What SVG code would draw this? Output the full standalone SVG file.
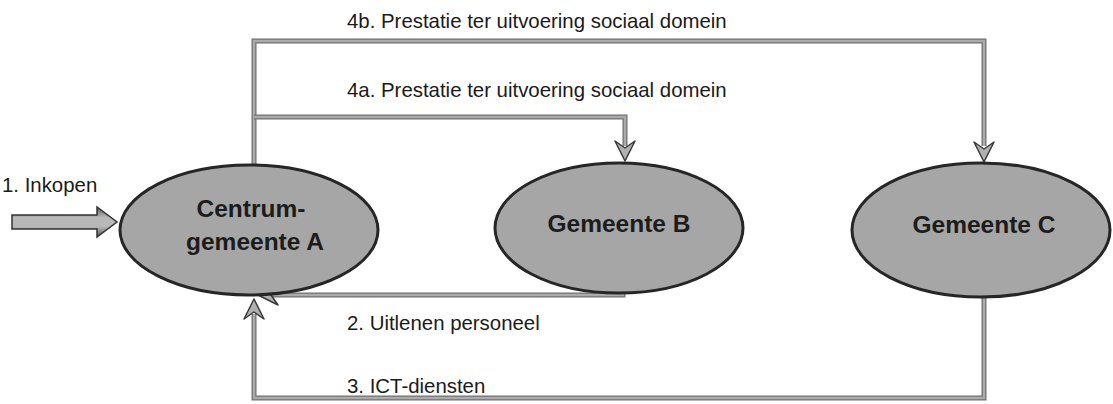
<svg xmlns="http://www.w3.org/2000/svg" width="1113" height="404" viewBox="0 0 1113 404">
  <style>
    .lbl { font-family: "Liberation Sans", Arial, sans-serif; font-size: 20.4px; fill: #1a1a1a; }
    .node-text { font-family: "Liberation Sans", Arial, sans-serif; font-size: 24.5px; font-weight: bold; fill: #1c1c1c; text-anchor: middle; }
    .node { fill: #a6a6a6; stroke: #262626; stroke-width: 3; }
    .conn-outer { fill: none; stroke: #707070; stroke-width: 5; }
    .conn-inner { fill: none; stroke: #ababab; stroke-width: 2.5; }
  </style>
  <defs>
    <linearGradient id="blockGrad" x1="0" y1="0" x2="0" y2="1">
      <stop offset="0" stop-color="#5a5a5a"/>
      <stop offset="0.35" stop-color="#b8b8b8"/>
      <stop offset="0.65" stop-color="#b8b8b8"/>
      <stop offset="1" stop-color="#5a5a5a"/>
    </linearGradient>
    <marker id="arrow" markerUnits="userSpaceOnUse" viewBox="0 0 24 24" markerWidth="24" markerHeight="24" refX="22" refY="12" orient="auto">
      <path d="M2,2 Q10,6 22,12 Q10,18 2,22 L9,12 Z" fill="#b0b0b0" stroke="#3a3a3a" stroke-width="1.5" stroke-linejoin="round"/>
    </marker>
  </defs>

  <g id="connectors">
    <!-- 4b -->
    <path class="conn-outer" d="M254,166 V41 H984 V146"/>
    <path class="conn-inner" d="M254,166 V41 H984 V146"/>
    <path d="M984,140 V162" fill="none" stroke="none" marker-end="url(#arrow)"/>
    <!-- 4a -->
    <path class="conn-outer" d="M254,117 H625 V146"/>
    <path class="conn-inner" d="M254,117 H625 V146"/>
    <path d="M625,140 V161" fill="none" stroke="none" marker-end="url(#arrow)"/>
    <!-- 2 -->
    <path class="conn-outer" d="M623,292 V295 H272"/>
    <path class="conn-inner" d="M623,292 V295 H272"/>
    <path d="M280,295 H258" fill="none" stroke="none" marker-end="url(#arrow)"/>
    <!-- 3 -->
    <path class="conn-outer" d="M984,297 V398 H254 V314"/>
    <path class="conn-inner" d="M984,297 V398 H254 V314"/>
    <path d="M254,320 V299" fill="none" stroke="none" marker-end="url(#arrow)"/>
  </g>

  <g id="inkopen">
    <path d="M12,215 H97 V207 L117,222 L97,237 V229 H12 Z" fill="url(#blockGrad)" stroke="#333" stroke-width="1.5" stroke-linejoin="miter"/>
    <text class="lbl" x="2" y="192">1. Inkopen</text>
  </g>

  <g id="node-a">
    <ellipse class="node" cx="249" cy="230" rx="129" ry="65"/>
    <text class="node-text" x="251" y="217">Centrum-</text>
    <text class="node-text" x="255" y="250">gemeente A</text>
  </g>

  <g id="node-b">
    <ellipse class="node" cx="619" cy="228" rx="124" ry="65"/>
    <text class="node-text" x="619" y="232">Gemeente B</text>
  </g>

  <g id="node-c">
    <ellipse class="node" cx="981" cy="230" rx="129" ry="67"/>
    <text class="node-text" x="984" y="233">Gemeente C</text>
  </g>

  <g id="labels">
    <text class="lbl" x="347" y="28">4b. Prestatie ter uitvoering sociaal domein</text>
    <text class="lbl" x="347" y="97">4a. Prestatie ter uitvoering sociaal domein</text>
    <text class="lbl" x="347" y="330">2. Uitlenen personeel</text>
    <text class="lbl" x="347" y="393">3. ICT-diensten</text>
  </g>
</svg>
